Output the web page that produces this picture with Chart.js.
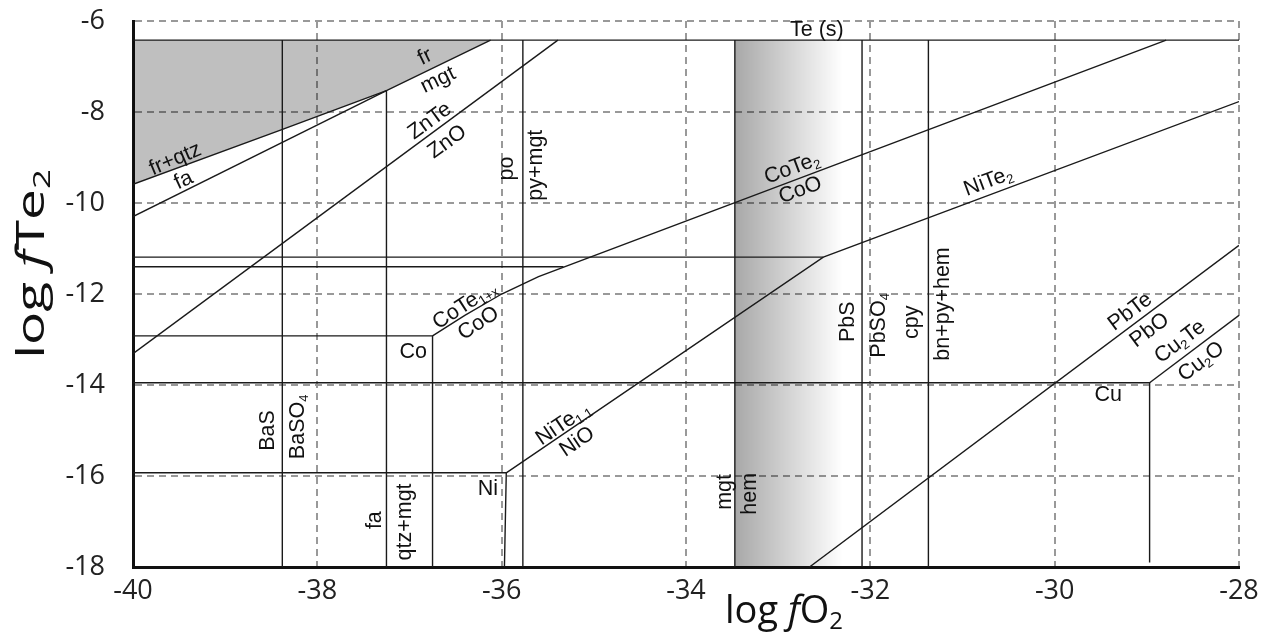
<!DOCTYPE html>
<html>
<head>
<meta charset="utf-8">
<script src="https://cdn.jsdelivr.net/npm/chart.js@4.4.0/dist/chart.umd.min.js"></script>
<style>
  html, body { margin: 0; padding: 0; background: #fff; }
  #wrap { width: 1278px; height: 632px; }
</style>
</head>
<body>
<div id="wrap"><canvas id="myChart" width="1278" height="632"></canvas></div>
<script>
// axis ticks
let xTicks = [-40, -38, -36, -34, -32, -30, -28];
let yTicks = [-18, -16, -14, -12, -10, -8, -6];

// phase boundaries, [log fO2, log fTe2]
let teS = -6.42;
let teLine = [[-40, teS], [-28, teS]];
let frQtz = [[-40, -9.59], [-38.4, -8.4], [-37.25, -7.53], [-36.12, teS]];
let faLine = [[-40, -10.3], [-37.25, -7.53]];
let znTe = [[-40, -13.31], [-35.39, teS]];
let baS = [[-38.38, -18], [-38.38, teS]];
let faQtz = [[-37.25, -18], [-37.25, -7.53]];
let poPy = [[-35.77, -18], [-35.77, teS]];
let upperH = [[-40, -11.19], [-32.51, -11.19]];
let lowerH = [[-40, -11.4], [-35.33, -11.4]];
let coMetal = [[-40, -12.92], [-36.75, -12.92], [-36.75, -18]];
let coTe = [[-36.75, -12.92], [-36.4, -12.47], [-36.0, -12.0], [-35.6, -11.62], [-28.79, teS]];
let niMetal = [[-40, -15.93], [-35.95, -15.93], [-35.97, -18]];
let niTe = [[-35.95, -15.93], [-32.51, -11.19], [-28, -7.77]];
let mgtHem = [[-33.47, -18], [-33.47, teS]];
let pbS = [[-32.09, -18], [-32.09, teS]];
let cpy = [[-31.37, -18], [-31.37, teS]];
let cuMetal = [[-40, -13.95], [-28.97, -13.95], [-28.97, -17.9]];
let cu2Te = [[-28.97, -13.95], [-28, -12.47]];
let pbTe = [[-32.66, -18], [-28, -10.93]];
let hemBand = [-33.47, -32.3];

// field labels: text, log fO2, log fTe2, angle (deg)
let fieldLabels = [
  ['Te (s)', -32.58, -6.2, 0],
  ['fr', -36.83, -6.79, -26],
  ['mgt', -36.69, -7.3, -26],
  ['ZnTe', -36.78, -8.2, -36],
  ['ZnO', -36.59, -8.66, -36],
  ['fr+qtz', -39.54, -9.04, -23],
  ['fa', -39.45, -9.5, -25],
  ['po', -35.94, -9.24, -90],
  ['py+mgt', -35.63, -9.17, -90],
  ['CoTe_{2}', -32.85, -9.24, -20.5],
  ['CoO', -32.76, -9.72, -20.5],
  ['NiTe_{2}', -30.72, -9.53, -20.5],
  ['CoTe_{1+x}', -36.4, -12.25, -33],
  ['CoO', -36.25, -12.65, -33],
  ['Co', -36.96, -13.27, 0],
  ['NiTe_{1.1}', -35.33, -14.85, -34],
  ['NiO', -35.18, -15.25, -34],
  ['Ni', -36.15, -16.28, 0],
  ['BaS', -38.53, -15.0, -90],
  ['BaSO_{4}', -38.21, -14.92, -90],
  ['fa', -37.37, -16.97, -90],
  ['qtz+mgt', -37.05, -17.01, -90],
  ['mgt', -33.58, -16.35, -90],
  ['hem', -33.31, -16.39, -90],
  ['PbS', -32.24, -12.61, -90],
  ['PbSO_{4}', -31.9, -12.69, -90],
  ['cpy', -31.55, -12.62, -90],
  ['bn+py+hem', -31.21, -12.22, -90],
  ['PbTe', -29.18, -12.39, -37],
  ['PbO', -28.97, -12.8, -37],
  ['Cu_{2}Te', -28.64, -13.05, -37],
  ['Cu_{2}O', -28.41, -13.49, -37],
  ['Cu', -29.42, -14.23, 0]
];

let lineColor = '#1a1a1a';
let pts = a => a.map(p => ({x: p[0], y: p[1]}));

function boundary(a) {
    return {
        data: pts(a),
        borderColor: lineColor,
        borderWidth: 1.4,
        pointRadius: 0,
        fill: false,
        tension: 0
    };
}

let lines = [teLine, faLine, znTe, baS, faQtz, poPy, upperH, lowerH, coMetal, coTe,
    niMetal, niTe, mgtHem, pbS, cpy, cuMetal, cu2Te, pbTe];
let datasets = lines.map(boundary);

// shaded fr + qtz field
datasets.push(Object.assign(boundary(frQtz), {
    fill: {value: teS},
    backgroundColor: 'rgba(0,0,0,0.25)'
}));

// mgt/hem gradient band
datasets.push({
    data: pts([[hemBand[0], teS], [hemBand[1], teS]]),
    borderWidth: 0,
    pointRadius: 0,
    fill: {value: -18},
    backgroundColor: function(ctx) {
        let chart = ctx.chart;
        if (!chart.chartArea) return 'rgba(0,0,0,0)';
        let x0 = chart.scales.x.getPixelForValue(hemBand[0]);
        let x1 = chart.scales.x.getPixelForValue(hemBand[1]);
        let g = chart.ctx.createLinearGradient(x0, 0, x1, 0);
        g.addColorStop(0, 'rgba(0,0,0,0.34)');
        g.addColorStop(1, 'rgba(0,0,0,0)');
        return g;
    }
});

// text with _{sub} parts
function parseRich(text) {
    return text.split(/(_\{[^}]*\})/).filter(s => s).map(s =>
        s.startsWith('_{') ? {t: s.slice(2, -1), sub: true} : {t: s, sub: false});
}

function drawParts(ctx, parts) {
    let w = 0;
    parts.forEach(p => { ctx.font = p.font; p.w = ctx.measureText(p.t).width; w += p.w; });
    let x = -w / 2;
    parts.forEach(p => {
        ctx.font = p.font;
        ctx.fillText(p.t, x, p.dy || 0);
        x += p.w;
    });
}

let labelPlugin = {
    id: 'fieldLabels',
    afterDatasetsDraw(chart) {
        let ctx = chart.ctx;
        let sx = chart.scales.x, sy = chart.scales.y;
        ctx.save();
        ctx.fillStyle = '#111';
        ctx.textBaseline = 'middle';
        ctx.textAlign = 'left';
        fieldLabels.forEach(l => {
            let parts = parseRich(l[0]).map(p => ({
                t: p.t,
                font: p.sub ? '13px "Liberation Sans", Arial' : '21.5px "Liberation Sans", Arial',
                dy: p.sub ? 6 : 0
            }));
            ctx.save();
            ctx.translate(sx.getPixelForValue(l[1]), sy.getPixelForValue(l[2]));
            ctx.rotate(l[3] * Math.PI / 180);
            drawParts(ctx, parts);
            ctx.restore();
        });

        // axis titles
        let big = '38px "Open Sans", sans-serif';
        let ital = 'italic 38px "Open Sans", sans-serif';
        let sub = '24px "Open Sans", sans-serif';
        ctx.textBaseline = 'alphabetic';
        ctx.fillStyle = '#111';
        ctx.save();
        ctx.translate(784, 623);
        drawParts(ctx, [{t: 'log ', font: big}, {t: 'f', font: ital}, {t: 'O', font: big}, {t: '2', font: sub, dy: 6}]);
        ctx.restore();
        ctx.save();
        ctx.translate(44, 264);
        ctx.rotate(-Math.PI / 2);
        ctx.scale(1.45, 1);
        drawParts(ctx, [{t: 'log ', font: big}, {t: 'f', font: ital}, {t: 'Te', font: big}, {t: '2', font: sub, dy: 6}]);
        ctx.restore();
        ctx.restore();
    }
};

let tickFont = {family: '"Open Sans", sans-serif', size: 27};
let gridOpts = {color: '#999', lineWidth: 2, drawTicks: false};
let borderOpts = {display: true, color: '#111', width: 3, dash: [7, 5]};

let myChart = document.getElementById('myChart').getContext('2d');
let chart = new Chart(myChart, {
    type: 'line',
    data: { datasets: datasets },
    plugins: [labelPlugin],
    options: {
        responsive: false,
        animation: false,
        events: [],
        layout: { padding: {top: 21, right: 39, left: 0, bottom: 0} },
        plugins: {
            legend: { display: false },
            tooltip: { enabled: false },
            title: { display: false }
        },
        scales: {
            x: {
                type: 'linear',
                min: -40,
                max: -28,
                afterBuildTicks: s => { s.ticks = xTicks.map(v => ({value: v})); },
                afterFit: s => { s.height = 65; s.paddingLeft = 0; s.paddingRight = 0; },
                grid: gridOpts,
                border: borderOpts,
                ticks: { font: tickFont, color: '#222', padding: 8, maxRotation: 0 }
            },
            y: {
                type: 'linear',
                min: -18,
                max: -6,
                afterBuildTicks: s => { s.ticks = yTicks.map(v => ({value: v})); },
                afterFit: s => { s.width = 133; s.paddingTop = 0; s.paddingBottom = 0; },
                grid: gridOpts,
                border: borderOpts,
                ticks: { font: tickFont, color: '#222', padding: 28 }
            }
        }
    }
});
</script>
</body>
</html>
